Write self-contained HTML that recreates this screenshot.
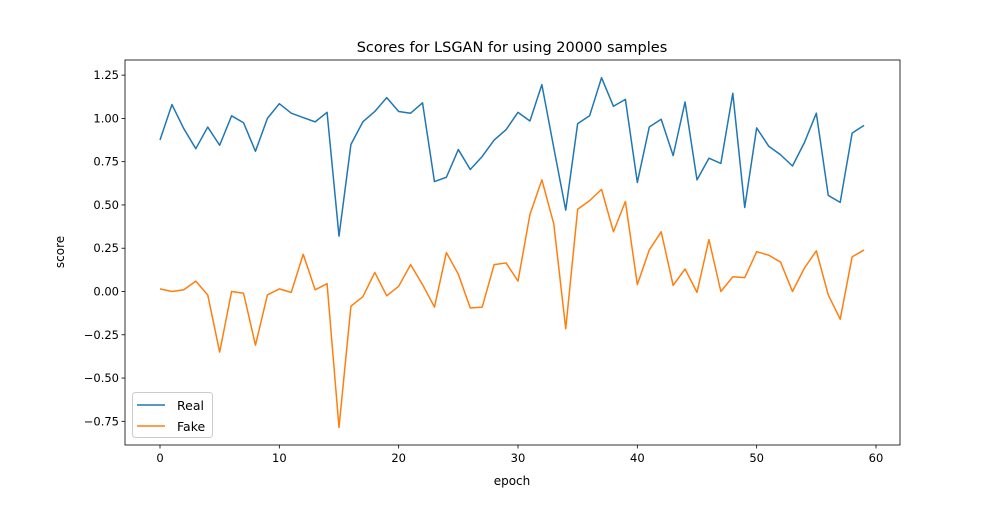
<!DOCTYPE html>
<html><head><meta charset="utf-8"><style>
body{margin:0;background:#fff}
svg text{font-family:"DejaVu Sans","Liberation Sans",sans-serif;fill:#000}
</style></head><body>
<svg id="chart" width="1000" height="500"></svg>
<script>
const epochs = Array.from({length:60},(_,i)=>i);
const realScores = [0.875,1.08,0.94,0.825,0.95,0.845,1.015,0.975,0.81,1.0,1.085,1.03,1.005,0.98,1.035,0.32,0.85,0.98,1.04,1.12,1.04,1.03,1.09,0.635,0.66,0.82,0.705,0.78,0.875,0.935,1.035,0.985,1.195,0.83,0.47,0.97,1.015,1.235,1.07,1.11,0.63,0.95,0.995,0.785,1.095,0.645,0.77,0.74,1.145,0.485,0.945,0.84,0.79,0.725,0.86,1.03,0.555,0.515,0.915,0.96];
const fakeScores = [0.015,0.0,0.01,0.06,-0.02,-0.35,0.0,-0.01,-0.31,-0.02,0.015,-0.005,0.215,0.01,0.045,-0.785,-0.085,-0.03,0.11,-0.025,0.03,0.155,0.04,-0.09,0.225,0.10,-0.095,-0.09,0.155,0.165,0.06,0.445,0.645,0.39,-0.215,0.475,0.525,0.59,0.345,0.52,0.04,0.24,0.345,0.035,0.13,-0.005,0.30,0.0,0.085,0.08,0.23,0.21,0.17,0.0,0.135,0.235,-0.02,-0.16,0.2,0.24];
const xTicks = [0,10,20,30,40,50,60];
const yTicks = [-0.75,-0.5,-0.25,0,0.25,0.5,0.75,1.0,1.25];
const yTickLabels = ["−0.75","−0.50","−0.25","0.00","0.25","0.50","0.75","1.00","1.25"];

const L=125,R=900,T=60,B=445;
const x=v=>160+v*(876-160)/60;
const y=v=>291.5-v*(291.5-118.4);
const NS="http://www.w3.org/2000/svg";
const svg=document.getElementById('chart');
function mk(tag,attrs,parent){const e=document.createElementNS(NS,tag);for(const k in attrs)e.setAttribute(k,attrs[k]);(parent||svg).appendChild(e);return e;}

const title=mk('text',{x:512,y:52,'text-anchor':'middle','font-size':14.5});
title.textContent='Scores for LSGAN for using 20000 samples';



function series(vals,color,name){
  const p=mk('polyline',{points:vals.map((v,i)=>x(epochs[i])+','+y(v)).join(' '),fill:'none',stroke:color,'stroke-width':1.5,'stroke-linejoin':'round'});
  
  
}
series(realScores,'#1f77b4','real-line');
series(fakeScores,'#ff7f0e','fake-line');

const frame=mk('rect',{x:L,y:T,width:R-L,height:B-T,fill:'none',stroke:'#000','stroke-width':0.8});



xTicks.forEach(t=>{
  const g=mk('g',{});
  
  
  mk('line',{x1:x(t),x2:x(t),y1:B,y2:B+3.5,stroke:'#000','stroke-width':0.8},g);
  const tx=mk('text',{x:x(t),y:B+17,'text-anchor':'middle','font-size':11.5},g);tx.textContent=t;
});
yTicks.forEach((t,i)=>{
  const g=mk('g',{});
  
  
  mk('line',{x1:L-3.5,x2:L,y1:y(t),y2:y(t),stroke:'#000','stroke-width':0.8},g);
  const tx=mk('text',{x:L-6,y:y(t)+4,'text-anchor':'end','font-size':11.5},g);tx.textContent=yTickLabels[i];
});
const xl=mk('text',{x:512,y:485,'text-anchor':'middle','font-size':12});xl.textContent='epoch';


const yl=mk('text',{x:64,y:252,'text-anchor':'middle','font-size':12,transform:'rotate(-90 64 252)'});yl.textContent='score';



const lg=mk('g',{});


mk('rect',{x:132.5,y:392.5,width:80,height:45,rx:3,fill:'#fff',stroke:'#ccc','stroke-width':1},lg);
[['Real','#1f77b4',410],['Fake','#ff7f0e',431]].forEach(([n,c,yy])=>{
  const e=mk('g',{},lg);
  
  
  mk('line',{x1:137,x2:165,y1:yy-5,y2:yy-5,stroke:c,'stroke-width':1.5},e);
  const t=mk('text',{x:177,y:yy,'font-size':12.5},e);t.textContent=n;
});
</script>
</body></html>
